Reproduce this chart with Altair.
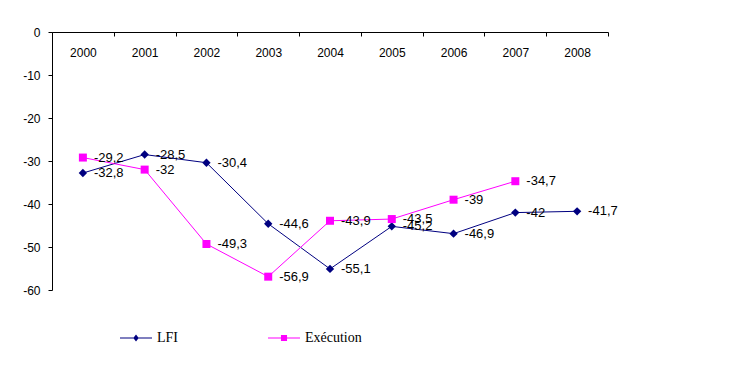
import altair as alt
import pandas as pd

years = ["2000", "2001", "2002", "2003", "2004", "2005", "2006", "2007", "2008"]
lfi = [-32.8, -28.5, -30.4, -44.6, -55.1, -45.2, -46.9, -42.0, -41.7]
execution_years = ["2000", "2001", "2002", "2003", "2004", "2005", "2006", "2007"]
execution = [-29.2, -32.0, -49.3, -56.9, -43.9, -43.5, -39.0, -34.7]
series_names = ["LFI", "Exécution"]
series_colors = ["#000080", "#FF00FF"]
series_shapes = ["diamond", "square"]
series_sizes = [70, 64]
y_ticks = [0, -10, -20, -30, -40, -50, -60]

rows = []
for yr, v in zip(years, lfi):
    rows.append({"year": yr, "value": v, "series": "LFI", "label": f"{v:g}".replace(".", ",")})
for yr, v in zip(execution_years, execution):
    rows.append({"year": yr, "value": v, "series": "Exécution", "label": f"{v:g}".replace(".", ",")})
df = pd.DataFrame(rows)

W, H = 556, 258

x_enc = alt.X(
    "year:O",
    scale=alt.Scale(type="band", domain=years, paddingInner=0, paddingOuter=0),
    axis=alt.Axis(
        orient="bottom", offset=-H, tickBand="extent", labelAngle=0,
        labelAlign="center", labelBaseline="top",
        labelOverlap=False, labelBound=False,
        tickSize=4, labelPadding=11, grid=False, title=None,
        domainColor="black", tickColor="black", labelColor="black",
        labelFont="Liberation Sans", labelFontSize=12,
    ),
)
y_enc = alt.Y(
    "value:Q",
    scale=alt.Scale(domain=[-60, 0], nice=False, zero=False),
    axis=alt.Axis(
        values=y_ticks, labelExpr="datum.value + ''", tickSize=4, labelPadding=8,
        grid=False, title=None, domainColor="black", tickColor="black",
        labelColor="black", labelFont="Liberation Sans", labelFontSize=12,
    ),
)

base = alt.Chart(df)

layers = []
for name, col, shp, sz in zip(series_names, series_colors, series_shapes, series_sizes):
    sub = base.transform_filter(alt.datum.series == name)
    layers.append(sub.mark_line(strokeWidth=1, color=col).encode(x=x_enc, y=y_enc))
    layers.append(sub.mark_point(shape=shp, filled=True, size=sz, opacity=1, color=col).encode(x=x_enc, y=y_enc))

labels = base.mark_text(
    align="left", baseline="middle", dx=11, fontSize=13, font="Liberation Sans", color="black"
).encode(x=x_enc, y=y_enc, text="label:N")

diamond_path = "M-1,-0.035L1,-0.035L1,0.035L-1,0.035ZM0,-0.22L0.17,0L0,0.22L-0.17,0Z"
square_path = "M-1,-0.035L1,-0.035L1,0.035L-1,0.035ZM-0.19,-0.19L0.19,-0.19L0.19,0.19L-0.19,0.19Z"

legend = alt.Legend(
    orient="none", legendX=68, legendY=290, direction="horizontal", columns=2,
    title=None, symbolSize=1024, symbolOpacity=1, symbolStrokeWidth=0,
    labelOffset=5, columnPadding=90, labelFont="Liberation Serif", labelFontSize=14,
    labelColor="black", padding=0,
)
legend_layer = base.mark_point(filled=True, opacity=0).encode(
    x=x_enc, y=y_enc,
    color=alt.Color("series:N", scale=alt.Scale(domain=series_names, range=series_colors), legend=legend),
    shape=alt.Shape("series:N", scale=alt.Scale(domain=series_names, range=[diamond_path, square_path]), legend=legend),
)

chart = alt.layer(*layers, labels, legend_layer).properties(
    width=W, height=H,
    autosize=alt.AutoSizeParams(type="none"),
    padding={"left": 44, "top": 24, "right": 100, "bottom": 70},
).configure_view(stroke=None)

chart.save("out.html", embed_options={"renderer": "svg", "actions": False})
